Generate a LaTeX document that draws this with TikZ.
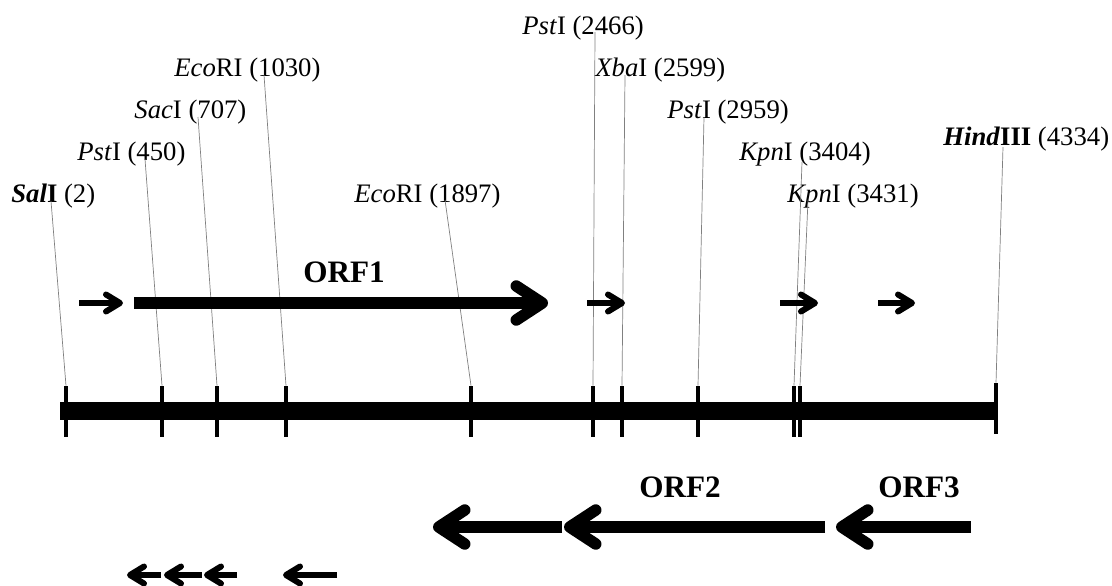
\documentclass[tikz,border=0pt]{standalone}
\usepackage{fontspec}
\setmainfont{Liberation Serif}
\usetikzlibrary{arrows.meta}
\tikzstyle{site} = [anchor=base west, inner sep=0pt, font=\fontsize{13.35}{16}\selectfont]
\tikzstyle{cut} = [rectangle, fill=black, minimum width=2.25pt, minimum height=25.5pt, inner sep=0pt]
\tikzstyle{leader} = [draw=gray, line width=0.35pt]
\tikzstyle{orf} = [line width=5.75pt, -{Straight Barb[length=13pt, width=17pt, round]}]
\tikzstyle{orfsmall} = [line width=3pt, -{Straight Barb[length=7pt, width=8.5pt, round]}]
\tikzstyle{orflabel} = [anchor=base, inner sep=0pt, font=\fontsize{15.6}{18}\selectfont\bfseries]
\begin{document}
\begin{tikzpicture}[x=0.5pt, y=-0.5pt]
\useasboundingbox (0,0) rectangle (1112,585);

% DNA line and restriction sites
\fill (60,402) rectangle (998,420);
\node (tSal) [cut] at (66,411.5) {};
\node (tPstA) [cut] at (162,411.5) {};
\node (tSac) [cut] at (217,411.5) {};
\node (tEcoA) [cut] at (286,411.5) {};
\node (tEcoB) [cut] at (471,411.5) {};
\node (tPstB) [cut] at (593,411.5) {};
\node (tXba) [cut] at (622,411.5) {};
\node (tPstC) [cut] at (698,411.5) {};
\node (tKpnA) [cut] at (794,411.5) {};
\node (tKpnB) [cut] at (800,411.5) {};
\node (tHind) [cut] at (996,408.5) {};

% Site labels
\node (sal) [site] at (11,202) {\textbf{\textit{Sal}I} (2)};
\node (pstA) [site] at (77,160) {\textit{Pst}I (450)};
\node (sac) [site] at (134,118) {\textit{Sac}I (707)};
\node (ecoA) [site] at (174,76.5) {\textit{Eco}RI (1030)};
\node (ecoB) [site] at (354,202) {\textit{Eco}RI (1897)};
\node (pstB) [site] at (522,34) {\textit{Pst}I (2466)};
\node (xba) [site] at (595,76.5) {\textit{Xba}I (2599)};
\node (pstC) [site] at (667,118) {\textit{Pst}I (2959)};
\node (kpnA) [site] at (739,160) {\textit{Kpn}I (3404)};
\node (kpnB) [site] at (787,202) {\textit{Kpn}I (3431)};
\node (hind) [site] at (943,145) {\textbf{\textit{Hind}III} (4334)};

\coordinate (lSal) at (51,201);
\coordinate (lPstA) at (145,159);
\coordinate (lSac) at (198,117);
\coordinate (lEcoA) at (264,75);
\coordinate (lEcoB) at (445,200);
\coordinate (lPstB) at (595,32);
\coordinate (lXba) at (625,75);
\coordinate (lPstC) at (704,117);
\coordinate (lKpnA) at (802,162);
\coordinate (lKpnB) at (808,200);
\coordinate (lHind) at (1003,147);

% Leader lines
\draw [leader] (lSal) -- (tSal.north);
\draw [leader] (lPstA) -- (tPstA.north);
\draw [leader] (lSac) -- (tSac.north);
\draw [leader] (lEcoA) -- (tEcoA.north);
\draw [leader] (lEcoB) -- (tEcoB.north);
\draw [leader] (lPstB) -- (tPstB.north);
\draw [leader] (lXba) -- (tXba.north);
\draw [leader] (lPstC) -- (tPstC.north);
\draw [leader] (lKpnA) -- (tKpnA.north);
\draw [leader] (lKpnB) -- (tKpnB.north);
\draw [leader] (lHind) -- (tHind.north);

% Forward reading frames
\draw [orfsmall] (79,303) -- (123,303);
\draw [orf] (134,303) -- (548,303);
\draw [orfsmall] (587,303) -- (625,303);
\draw [orfsmall] (780,303) -- (818,303);
\draw [orfsmall] (878,303) -- (915,303);
\node (orf1) [orflabel] at (344,282) {ORF1};

% Reverse reading frames
\draw [orf] (562,527) -- (433,527);
\draw [orf] (825,527) -- (564,527);
\draw [orf] (971,527) -- (836,527);
\node (orf2) [orflabel] at (680,497) {ORF2};
\node (orf3) [orflabel] at (919,497) {ORF3};

\draw [orfsmall] (161,575) -- (127,575);
\draw [orfsmall] (202,575) -- (164,575);
\draw [orfsmall] (237,575) -- (204,575);
\draw [orfsmall] (337,575) -- (283,575);

\end{tikzpicture}
\end{document}
